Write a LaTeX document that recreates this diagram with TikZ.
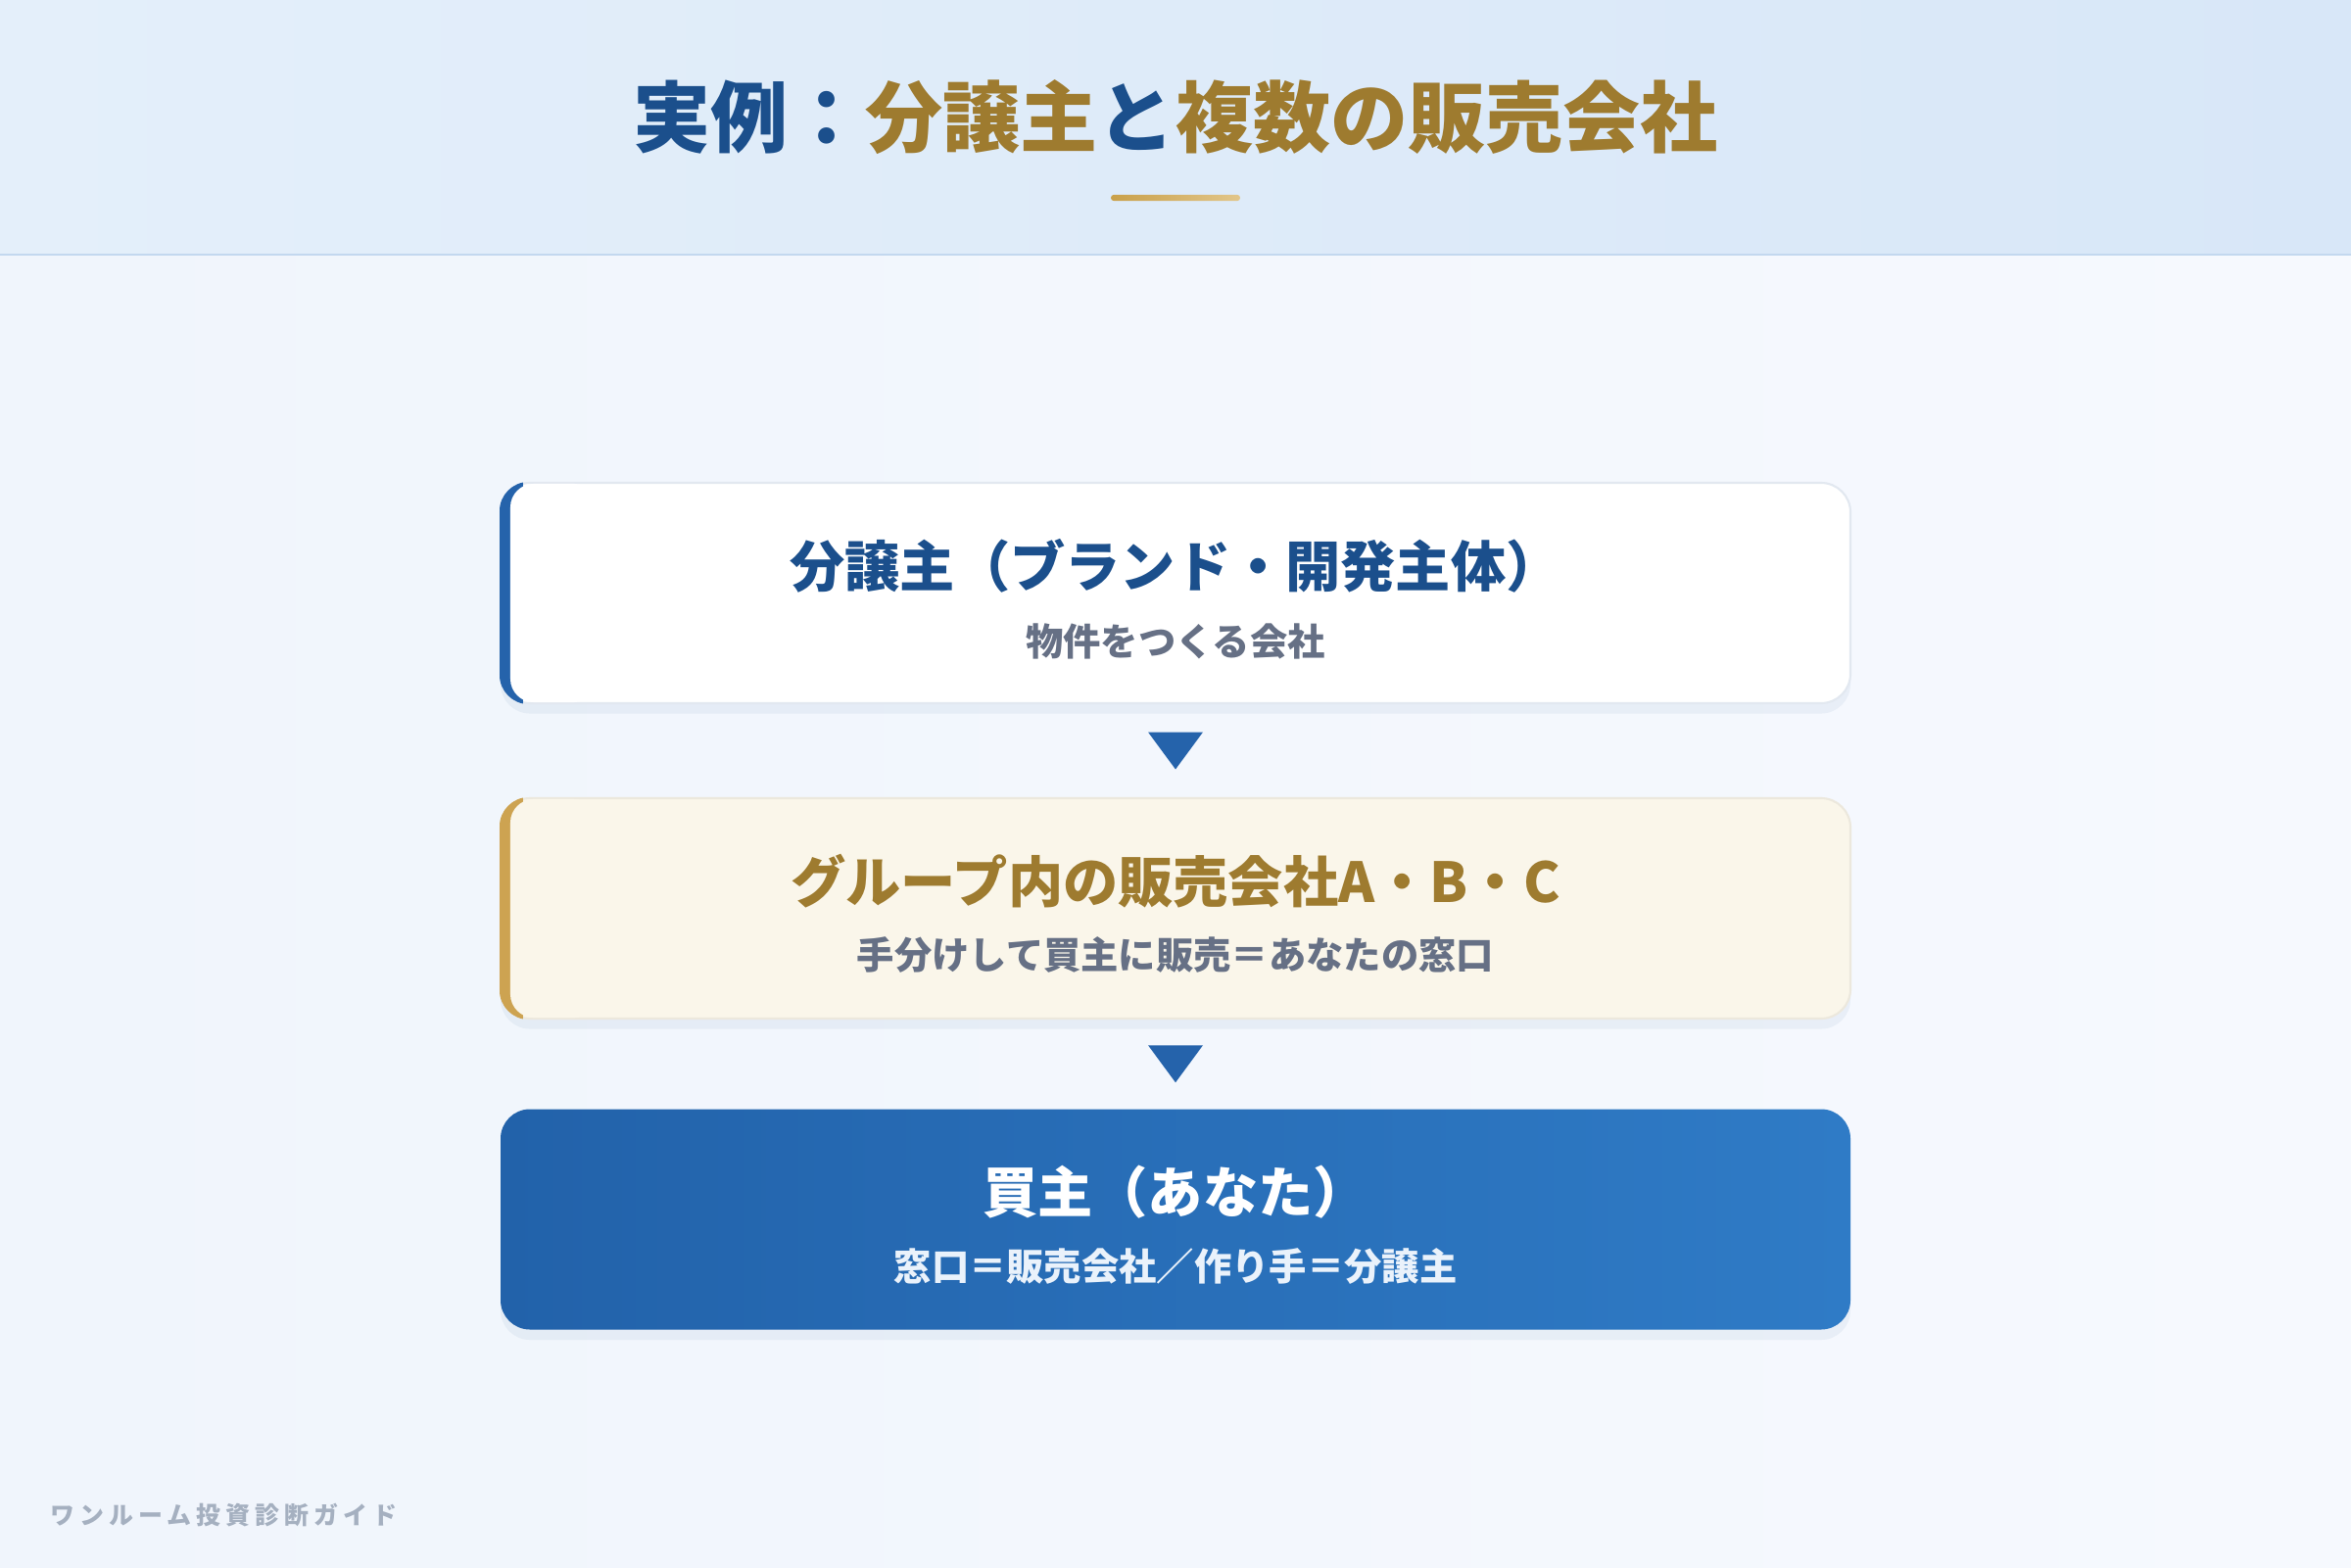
\documentclass[tikz,border=0pt]{standalone}
\usepackage{fontspec}
\setmainfont{Noto Sans CJK JP}
\usetikzlibrary{calc,shadows}

\definecolor{navy}{HTML}{1B4F8C}
\definecolor{gold}{HTML}{9E7B2F}
\definecolor{bar1}{HTML}{C9A04A}
\definecolor{bar2}{HTML}{E2C68A}
\definecolor{headleft}{HTML}{E4EFFA}
\definecolor{headright}{HTML}{D8E7F8}
\definecolor{headline}{HTML}{C3D8EF}
\definecolor{bgleft}{HTML}{F0F5FC}
\definecolor{bgright}{HTML}{F6F9FE}
\definecolor{boxline}{HTML}{E2E8F0}
\definecolor{cream}{HTML}{FAF6EA}
\definecolor{creamline}{HTML}{ECE8DD}
\definecolor{accentblue}{HTML}{2563AB}
\definecolor{accentgold}{HTML}{CDA351}
\definecolor{buyleft}{HTML}{2262AA}
\definecolor{buyright}{HTML}{2F7BC6}
\definecolor{subgray}{HTML}{667085}
\definecolor{subwhite}{HTML}{EAF2FB}
\definecolor{footgray}{HTML}{A5B0C0}

\begin{document}
\begin{tikzpicture}
\tikzstyle{box}=[draw=boxline,line width=0.6pt,rounded corners=0.3cm,minimum width=13.78cm,minimum height=2.25cm,drop shadow={shadow xshift=0pt,shadow yshift=-3pt,opacity=0.06,fill=navy}]
\tikzstyle{boxtitle}=[font=\bfseries\fontsize{16pt}{19pt}\selectfont]
\tikzstyle{boxsub}=[font=\bfseries\fontsize{10.9pt}{13pt}\selectfont,text=subgray]
\tikzstyle{tri}=[fill=accentblue]
\useasboundingbox (0,0) rectangle (24,-16);

% background and header band
\shade[left color=bgleft,right color=bgright] (0,-2.6) rectangle (24,-16);
\shade[left color=headleft,right color=headright] (0,0) rectangle (24,-2.6);
\draw[headline,line width=0.6pt] (0,-2.6) -- (24,-2.6);

\node[font=\bfseries\fontsize{22.5pt}{27pt}\selectfont] (title) at (12,-1.2) {\textcolor{navy}{実例：}\textcolor{gold}{分譲主}\textcolor{navy}{と}\textcolor{gold}{複数の販売会社}};
\shade[left color=bar1,right color=bar2,rounded corners=0.032cm] (11.34,-1.988) rectangle (12.66,-2.052);

% the three boxes
\node[box,fill=white] (maker) at (12,-6.055) {};
\node[box,fill=cream,draw=creamline] (sellers) at (12,-9.275) {};
\node[box,draw=none,left color=buyleft,right color=buyright] (buyer) at (12,-12.45) {};

% left accents
\begin{scope}
\clip[rounded corners=0.3cm] (maker.south west) rectangle (maker.north east);
\fill[accentblue] (maker.south west) rectangle ($(maker.north west)+(0.24,0)$);
\fill[white,rounded corners=0.24cm] ($(maker.south west)+(0.11,0.02)$) rectangle ($(maker.north west)+(1,-0.02)$);
\end{scope}
\begin{scope}
\clip[rounded corners=0.3cm] (sellers.south west) rectangle (sellers.north east);
\fill[accentgold] (sellers.south west) rectangle ($(sellers.north west)+(0.24,0)$);
\fill[cream,rounded corners=0.24cm] ($(sellers.south west)+(0.11,0.02)$) rectangle ($(sellers.north west)+(1,-0.02)$);
\end{scope}

\node[boxtitle,text=navy] (makername) at ($(maker)+(0,0.28)$) {分譲主（ブランド・開発主体）};
\node[boxsub] (makernote) at ($(maker)+(0,-0.49)$) {物件をつくる会社};
\node[boxtitle,text=gold] (sellersname) at ($(sellers)+(0,0.275)$) {グループ内の販売会社A・B・C};
\node[boxsub] (sellersnote) at ($(sellers)+(0,-0.475)$) {手分けして買主に販売＝あなたの窓口};
\node[boxtitle,text=white] (buyername) at ($(buyer)+(0,0.28)$) {買主（あなた）};
\node[boxsub,text=subwhite] (buyernote) at ($(buyer)+(0,-0.48)$) {窓口＝販売会社／作り手＝分譲主};

% down markers between the boxes
\coordinate (gap1) at ($(maker.south)!0.5!(sellers.north)$);
\coordinate (gap2) at ($(sellers.south)!0.5!(buyer.north)$);
\fill[tri] ($(gap1)+(-0.28,0.19)$) -- ($(gap1)+(0.28,0.19)$) -- ($(gap1)+(0,-0.19)$) -- cycle;
\fill[tri] ($(gap2)+(-0.28,0.19)$) -- ($(gap2)+(0.28,0.19)$) -- ($(gap2)+(0,-0.19)$) -- cycle;

\node[anchor=west,text=footgray,font=\bfseries\fontsize{7.1pt}{9pt}\selectfont\addfontfeatures{LetterSpace=20}] (brand) at (0.39,-15.47) {ワンルーム投資診断ガイド};
\end{tikzpicture}
\end{document}
